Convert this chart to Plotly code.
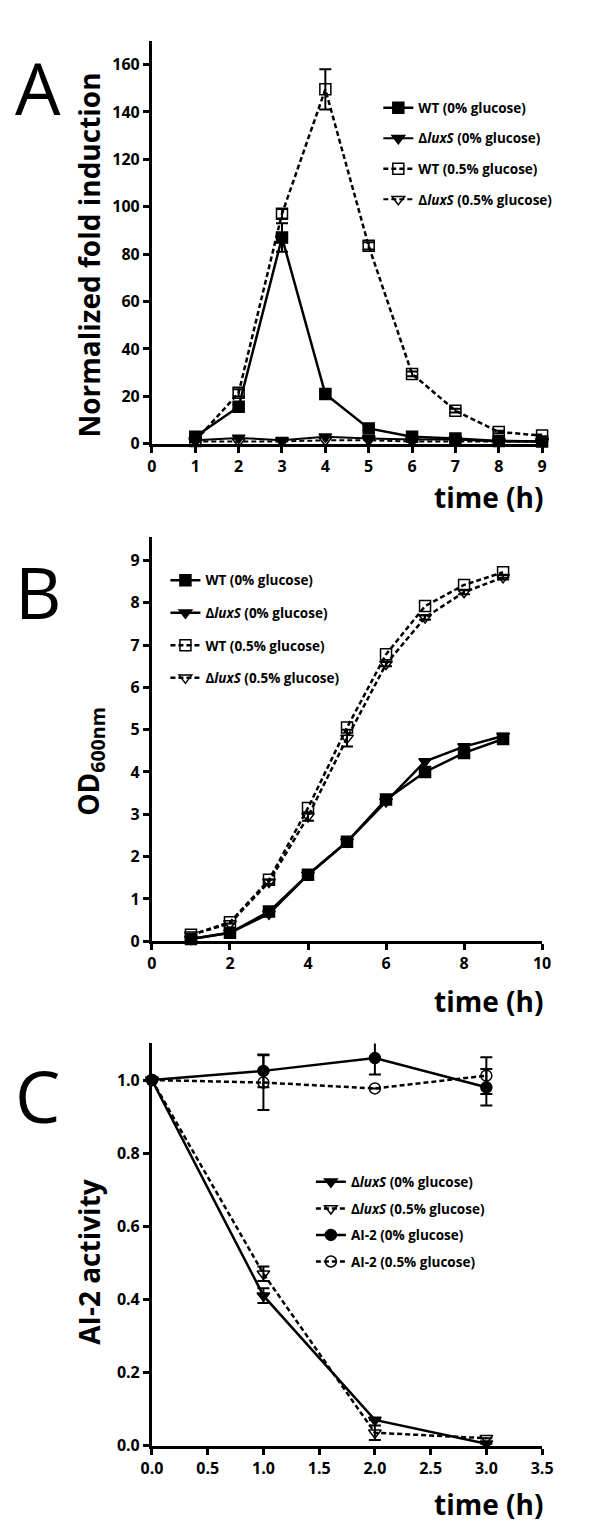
import plotly.graph_objects as go

# ---------------- Data ----------------
# Panel A: normalized fold induction
a_time = [1, 2, 3, 4, 5, 6, 7, 8, 9]
a_wt_0 = [3.0, 15.6, 87.0, 21.0, 6.5, 3.0, 2.2, 1.2, 1.0]
a_wt_0_err = [0.5, 1.0, 6.0, 1.0, 0.8, 0.4, 0.3, 0.2, 0.2]
a_lux_0 = [1.5, 2.5, 1.5, 3.0, 2.2, 1.8, 1.8, 1.0, 1.0]
a_wt_05 = [1.2, 21.5, 97.0, 149.5, 83.5, 29.5, 14.0, 5.0, 3.5]
a_wt_05_err = [0.3, 1.5, 2.0, 8.5, 1.5, 1.0, 0.8, 0.5, 0.4]
a_lux_05 = [1.0, 1.0, 1.0, 1.5, 1.5, 1.0, 1.0, 1.0, 1.0]

# Panel B: OD600nm
b_time = [1, 2, 3, 4, 5, 6, 7, 8, 9]
b_wt_0 = [0.05, 0.2, 0.7, 1.57, 2.35, 3.35, 4.0, 4.45, 4.78]
b_lux_0 = [0.05, 0.2, 0.65, 1.57, 2.35, 3.3, 4.25, 4.6, 4.85]
b_wt_05 = [0.15, 0.45, 1.45, 3.15, 5.05, 6.78, 7.92, 8.42, 8.72]
b_lux_05 = [0.15, 0.42, 1.4, 2.95, 4.8, 6.55, 7.65, 8.25, 8.6]
b_lux_05_err = [0.0, 0.0, 0.05, 0.1, 0.2, 0.05, 0.05, 0.05, 0.05]

# Panel C: AI-2 activity
c_time = [0, 1, 2, 3]
c_lux_0 = [1.0, 0.41, 0.07, 0.005]
c_lux_0_err = [0.0, 0.02, 0.0, 0.0]
c_lux_05 = [1.0, 0.47, 0.035, 0.02]
c_lux_05_err = [0.0, 0.02, 0.02, 0.0]
c_ai2_0 = [1.0, 1.025, 1.06, 0.98]
c_ai2_0_err = [0.0, 0.045, 0.045, 0.05]
c_ai2_05 = [1.0, 0.993, 0.977, 1.012]
c_ai2_05_err = [0.0, 0.075, 0.0, 0.05]

# ---------------- Styling ----------------
W, H = 600, 1523
FONT = "Open Sans"
BLACK = "black"
LEGEND_FONT = dict(family=FONT, size=13.5, color=BLACK, weight="bold")
TICK_FONT = dict(family=FONT, size=16, color=BLACK, weight="bold")


def px_x(p):
    return p / W


def px_y(p):
    return 1 - p / H


fig = go.Figure()


def add(x, y, name, symbol, dash, xa, ya, legend, group, err=None, lw=2.5):
    marker = dict(symbol=symbol, size=11, color=BLACK,
                  line=dict(color=BLACK, width=1.5))
    tr = go.Scatter(
        x=x, y=y, name=name, mode="lines+markers",
        line=dict(color=BLACK, width=lw, dash=dash),
        marker=marker, xaxis=xa, yaxis=ya, legend=legend,
        legendgroup=group, cliponaxis=False,
    )
    if err is not None:
        tr.error_y = dict(type="data", array=err, visible=True,
                          color=BLACK, thickness=2, width=6)
    fig.add_trace(tr)


DASH = "5px,3px"
LUX0 = "Δ<i>luxS</i> (0% glucose)"
LUX05 = "Δ<i>luxS</i> (0.5% glucose)"

# Panel A (x / y axis 1)
add(a_time, a_lux_05, LUX05, "triangle-down-open", DASH, "x", "y", "legend", "a4", lw=2)
add(a_time, a_lux_0, LUX0, "triangle-down", "solid", "x", "y", "legend", "a2", lw=2)
add(a_time, a_wt_05, "WT (0.5% glucose)", "square-open", DASH, "x", "y", "legend", "a3", err=a_wt_05_err)
add(a_time, a_wt_0, "WT (0% glucose)", "square", "solid", "x", "y", "legend", "a1", err=a_wt_0_err)

# Panel B (axis 2)
add(b_time, b_wt_0, "WT (0% glucose)", "square", "solid", "x2", "y2", "legend2", "b1")
add(b_time, b_lux_0, LUX0, "triangle-down", "solid", "x2", "y2", "legend2", "b2")
add(b_time, b_wt_05, "WT (0.5% glucose)", "square-open", DASH, "x2", "y2", "legend2", "b3")
add(b_time, b_lux_05, LUX05, "triangle-down-open", DASH, "x2", "y2", "legend2", "b4", err=b_lux_05_err)

# Panel C (axis 3)
add(c_time, c_lux_0, LUX0, "triangle-down", "solid", "x3", "y3", "legend3", "c1", err=c_lux_0_err)
add(c_time, c_lux_05, LUX05, "triangle-down-open", DASH, "x3", "y3", "legend3", "c2", err=c_lux_05_err)
add(c_time, c_ai2_0, "AI-2 (0% glucose)", "circle", "solid", "x3", "y3", "legend3", "c3", err=c_ai2_0_err)
add(c_time, c_ai2_05, "AI-2 (0.5% glucose)", "circle-open", DASH, "x3", "y3", "legend3", "c4", err=c_ai2_05_err)

xdom = [px_x(138), px_x(543)]
axis_common = dict(showline=True, linecolor=BLACK, linewidth=3, ticks="outside",
                   tickcolor=BLACK, tickwidth=3, ticklen=6, showgrid=False,
                   zeroline=False, tickfont=TICK_FONT, mirror=False)

fig.update_layout(
    width=W, height=H, margin=dict(l=0, r=0, t=0, b=0),
    paper_bgcolor="white", plot_bgcolor="white",
    font=dict(family=FONT, color=BLACK),
    xaxis=dict(domain=xdom, range=[0, 9], dtick=1, tick0=0, anchor="y", **axis_common),
    yaxis=dict(domain=[px_y(439), px_y(33)], range=[0, 170],
               tickvals=[0, 20, 40, 60, 80, 100, 120, 140, 160], anchor="x", **axis_common),
    xaxis2=dict(domain=xdom, range=[0, 10], dtick=2, tick0=0, anchor="y2", **axis_common),
    yaxis2=dict(domain=[px_y(940), px_y(533)], range=[0, 9.55],
                tickvals=list(range(10)), anchor="x2", **axis_common),
    xaxis3=dict(domain=xdom, range=[0, 3.5], dtick=0.5, tick0=0, tickformat=".1f",
                anchor="y3", **axis_common),
    yaxis3=dict(domain=[px_y(1448), px_y(1043)], range=[0, 1.1], tickformat=".1f",
                tickvals=[0, 0.2, 0.4, 0.6, 0.8, 1.0], anchor="x3", **axis_common),
    legend=dict(x=px_x(373), y=px_y(85), xanchor="left", yanchor="top",
                font=LEGEND_FONT, tracegroupgap=10, traceorder="grouped",
                bgcolor="rgba(0,0,0,0)", itemwidth=30),
    legend2=dict(x=px_x(152), y=px_y(561), xanchor="left", yanchor="top",
                 font=LEGEND_FONT, tracegroupgap=12, traceorder="grouped",
                 bgcolor="rgba(0,0,0,0)", itemwidth=30),
    legend3=dict(x=px_x(303), y=px_y(1167), xanchor="left", yanchor="top",
                 font=LEGEND_FONT, tracegroupgap=6, traceorder="grouped",
                 bgcolor="rgba(0,0,0,0)", itemwidth=30),
    showlegend=True,
)

# Legend A order: WT0, lux0, WT05, lux05
order = {"a1": 1, "a2": 2, "a3": 3, "a4": 4}
for tr in fig.data:
    if tr.legendgroup in order:
        tr.legendrank = order[tr.legendgroup]

annots = []
# Panel letters
for letter, ytop in [("A", 28), ("B", 536), ("C", 1044)]:
    annots.append(dict(text=letter, x=px_x(-6), y=px_y(ytop), xref="paper", yref="paper",
                       xanchor="left", yanchor="top", showarrow=False,
                       font=dict(family=FONT, size=72, color=BLACK)))
# y titles
ytitles = [("Normalized fold induction", (68 + 430) / 2),
           ("OD<sub>600nm</sub>", (690 + 828) / 2),
           ("AI-2 activity", (1180 + 1345) / 2)]
for t, yc in ytitles:
    annots.append(dict(text=t, x=px_x(73), y=px_y(yc), xref="paper", yref="paper",
                       xanchor="center", yanchor="middle", textangle=-90, showarrow=False,
                       font=dict(family=FONT, size=28, color=BLACK, weight="bold")))
# x titles
for yc in [493, 1000, 1507]:
    annots.append(dict(text="time (h)", x=px_x(546), y=px_y(yc), xref="paper", yref="paper",
                       xanchor="right", yanchor="middle", showarrow=False,
                       font=dict(family=FONT, size=28, color=BLACK, weight="bold")))
fig.update_layout(annotations=annots)

fig.write_html("out.html")
